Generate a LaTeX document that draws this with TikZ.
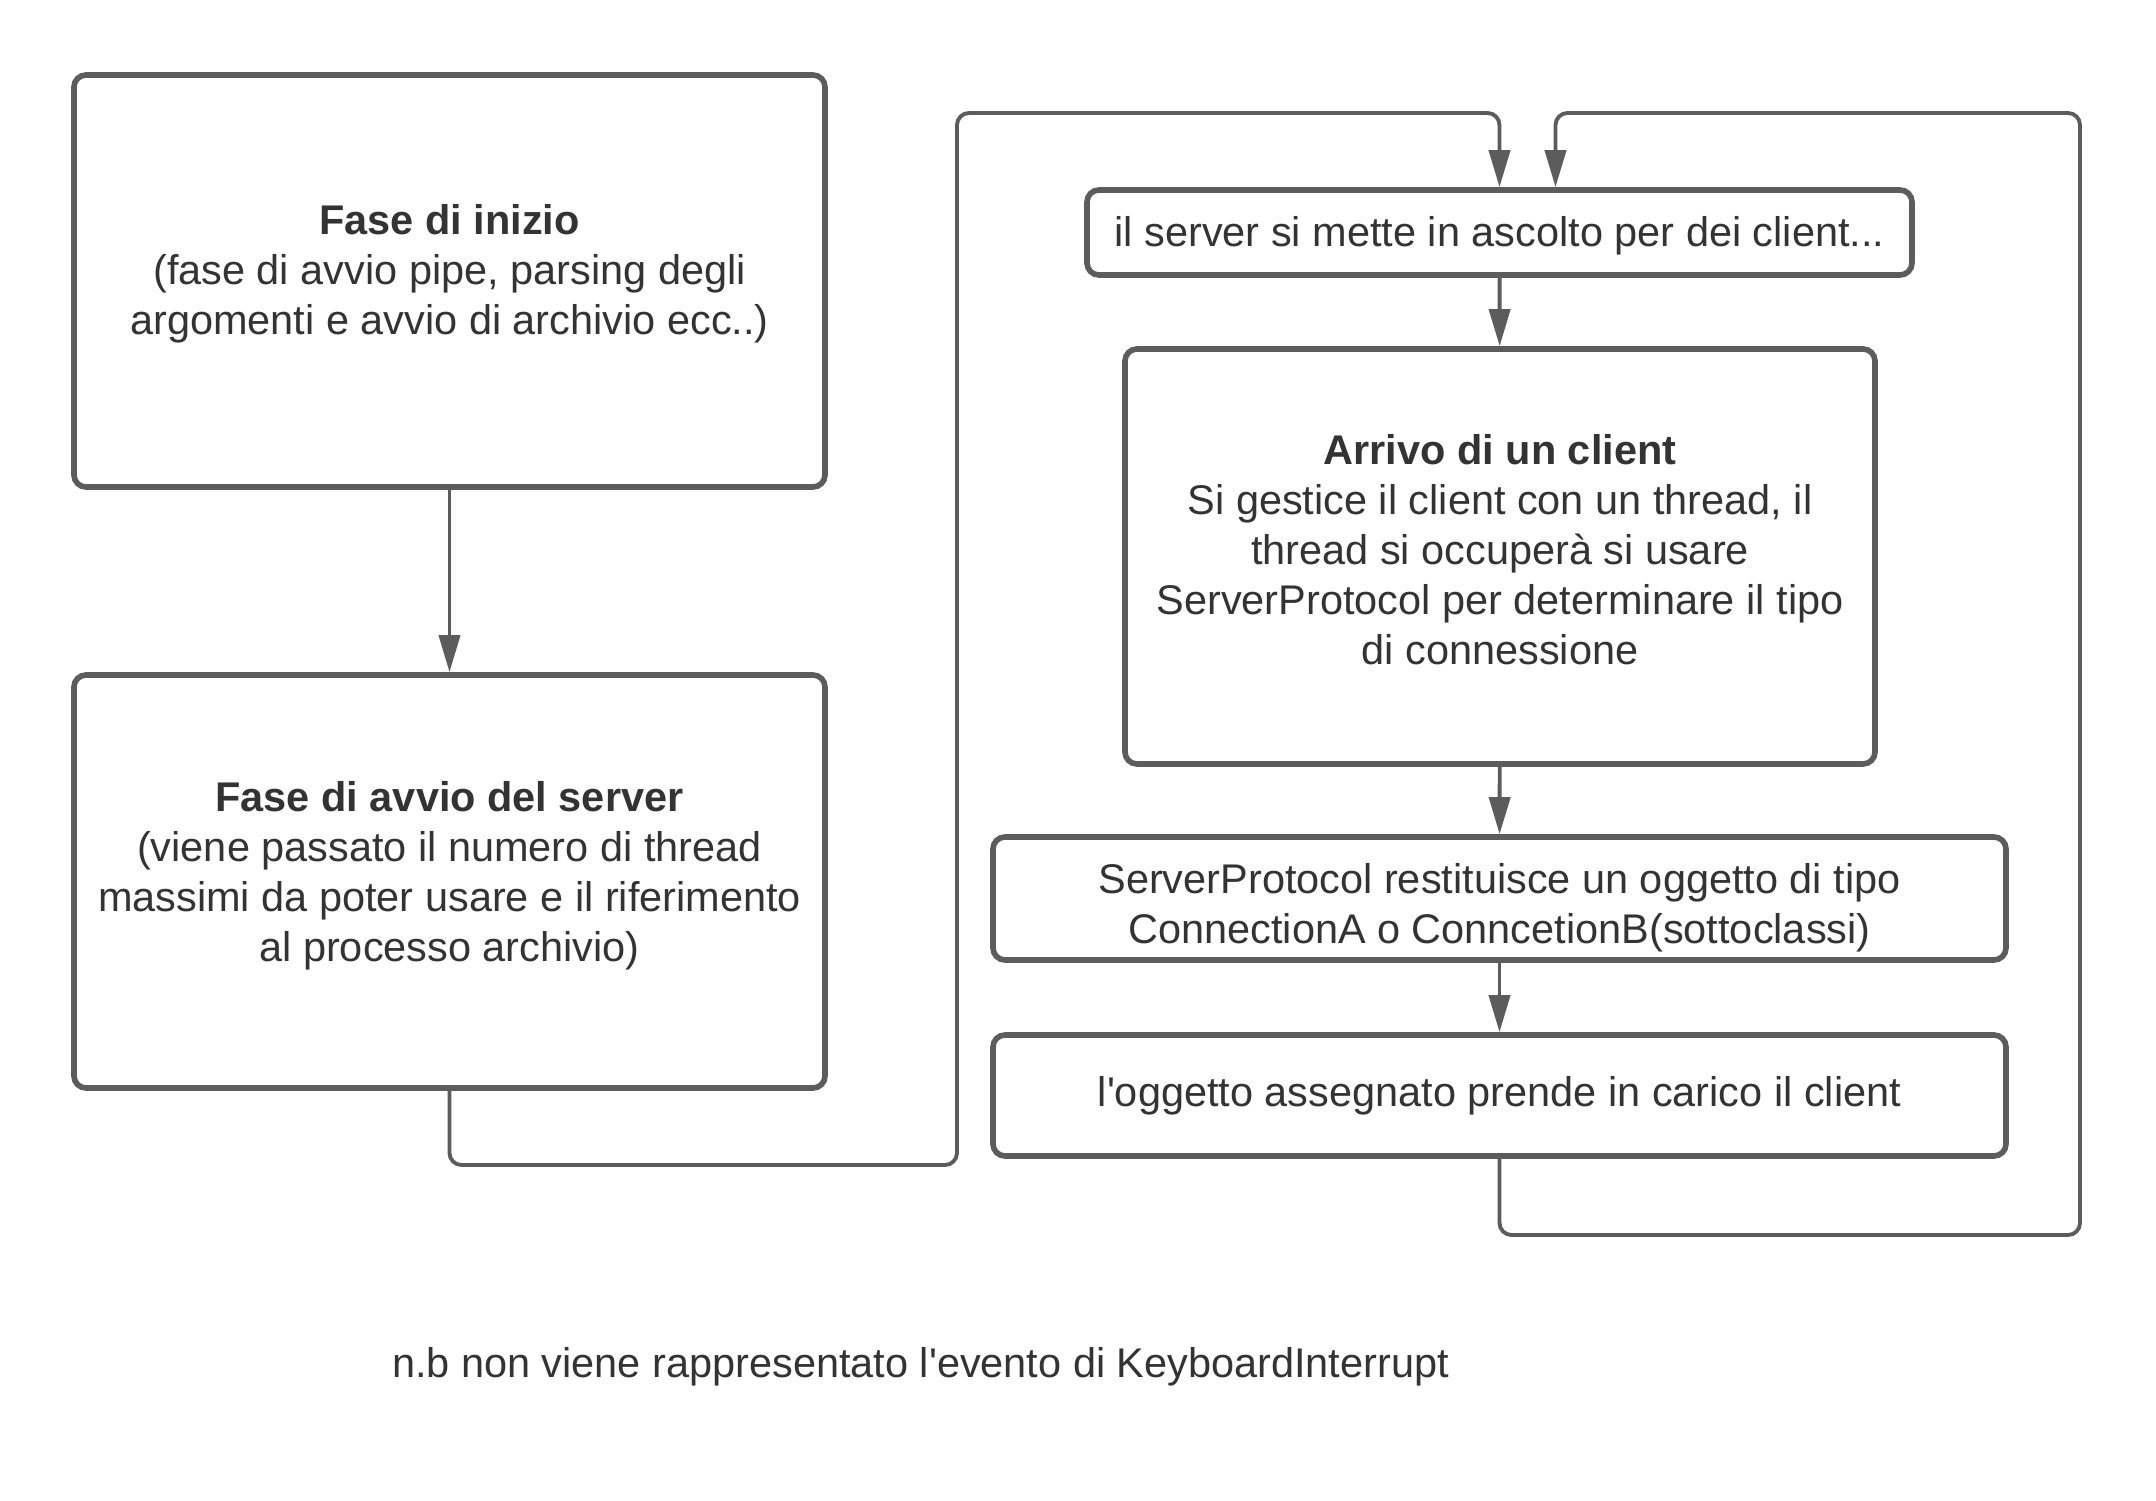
\documentclass[tikz,border=0pt]{standalone}
\usepackage{fontspec}
\setmainfont{Liberation Sans}
\usetikzlibrary{arrows.meta}
\definecolor{linegray}{HTML}{5C5C5C}
\definecolor{textgray}{HTML}{333333}
\tikzset{
  box/.style={draw=linegray, line width=1.6pt, rounded corners=0.12cm, inner sep=0pt},
  boxtext/.style={align=center, text=textgray, font=\fontsize{11.8}{14.25}\selectfont, inner sep=0pt},
  link/.style={draw=linegray, line width=1.1pt, rounded corners=0.12cm,
    -{Triangle[length=3.7mm,width=2.1mm]}}
}
\begin{document}
\begin{tikzpicture}
  \useasboundingbox (0,0) rectangle (21.56,15);
  \node[box, minimum width=7.51cm, minimum height=4.12cm,
    label={[boxtext, yshift=0.07cm]center:{\textbf{Fase di inizio}\\(fase di avvio pipe, parsing degli\\argomenti e avvio di archivio ecc..)}}]
    (inizio) at (4.495,12.19) {};
  \node[box, minimum width=7.51cm, minimum height=4.13cm,
    label={[boxtext, yshift=0.055cm]center:{\textbf{Fase di avvio del server}\\(viene passato il numero di thread\\massimi da poter usare e il riferimento\\al processo archivio)}}]
    (avvio) at (4.495,6.185) {};
  \node[box, minimum width=8.25cm, minimum height=0.85cm,
    label={[boxtext, yshift=-0.03cm]center:{il server si mette in ascolto per dei client...}}]
    (ascolto) at (14.995,12.675) {};
  \node[box, minimum width=7.5cm, minimum height=4.15cm,
    label={[boxtext, yshift=0.07cm]center:{\textbf{Arrivo di un client}\\Si gestice il client con un thread, il\\thread si occuperà si usare\\ServerProtocol per determinare il tipo\\di connessione}}]
    (arrivo) at (15.0,9.435) {};
  \node[box, minimum width=10.13cm, minimum height=1.23cm,
    label={[boxtext, yshift=-0.095cm]center:{ServerProtocol restituisce un oggetto di tipo\\ConnectionA o ConncetionB(sottoclassi)}}]
    (protocol) at (14.995,6.015) {};
  \node[box, minimum width=10.13cm, minimum height=1.21cm,
    label={[boxtext]center:{l\textquotesingle oggetto assegnato prende in carico il client}}]
    (oggetto) at (14.995,4.045) {};
  \node[boxtext] (nota) at (9.205,1.33)
    {n.b non viene rappresentato l\textquotesingle evento di KeyboardInterrupt};
  \coordinate (lo1) at (9.57,3.35);
  \coordinate (hi1) at (9.57,13.87);
  \coordinate (lo2) at (20.8,2.65);
  \coordinate (hi2) at (20.8,13.87);
  \begin{scope}[link]
    \draw (inizio) to (avvio);
    \draw (ascolto) to (arrivo);
    \draw (arrivo) to (protocol);
    \draw (protocol) to (oggetto);
    \draw (avvio.south) |- (lo1) -- (hi1) -| (ascolto.north);
    \draw (oggetto.south) |- (lo2) -- (hi2) -| ([xshift=0.56cm]ascolto.north);
  \end{scope}
\end{tikzpicture}
\end{document}
